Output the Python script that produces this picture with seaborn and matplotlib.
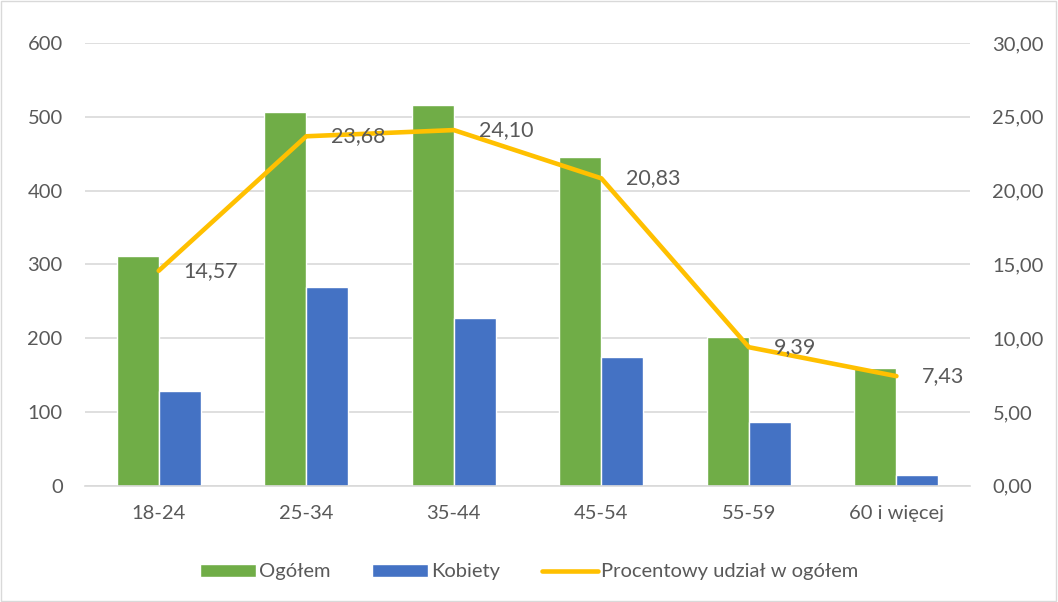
import matplotlib
matplotlib.use("Agg")
import matplotlib.pyplot as plt
import seaborn as sns
import pandas as pd
from matplotlib.patches import Rectangle

# data
groups = ['18-24', '25-34', '35-44', '45-54', '55-59', '60 i więcej']
ogolem = [312, 507, 516, 446, 201, 159]
kobiety = [129, 269, 227, 174, 86, 15]
procent = [14.57, 23.68, 24.10, 20.83, 9.39, 7.43]

sns.set_style('white')
plt.rcParams['font.family'] = ['Lato', 'DejaVu Sans']
txt = '#595959'
fs = 14.5

df = pd.DataFrame({'grupa': groups * 2,
                   'liczba': ogolem + kobiety,
                   'seria': ['Ogółem'] * 6 + ['Kobiety'] * 6})

fig = plt.figure(figsize=(10.58, 6.02), dpi=100)
ax = fig.add_axes([0.0803, 0.193, 0.8367, 0.7356])
sns.barplot(data=df, x='grupa', y='liczba', hue='seria',
            palette={'Ogółem': '#70AD47', 'Kobiety': '#4472C4'},
            width=0.57, saturation=1, ax=ax)
ax.set_xlim(-0.5, 5.5)
ax.set_ylim(0, 600)
ax.set_yticks(range(0, 601, 100))
ax.yaxis.grid(True, color='#D9D9D9', linewidth=1.2)
ax.set_axisbelow(True)
ax.set_xlabel('')
ax.set_ylabel('')
for s in ['top', 'right', 'left']:
    ax.spines[s].set_visible(False)
ax.spines['bottom'].set_color('#D9D9D9')
ax.spines['bottom'].set_linewidth(1.2)
ax.tick_params(length=0, labelsize=fs, colors=txt)
ax.tick_params(axis='x', pad=14)
ax.tick_params(axis='y', pad=16)
ax.get_legend().remove()

ax2 = ax.twinx()
xs = list(range(len(groups)))
sns.lineplot(x=xs, y=procent, color='#FFC000', linewidth=3.3, ax=ax2,
             label='Procentowy udział w ogółem', sort=False)
ax2.set_ylim(0, 30)
ax2.set_yticks(range(0, 31, 5))
ax2.set_yticklabels([f'{v:.2f}'.replace('.', ',') for v in range(0, 31, 5)])
ax2.tick_params(length=0, labelsize=fs, colors=txt, pad=16)
for s in ax2.spines.values():
    s.set_visible(False)
ax2.get_legend().remove()
for x, v in zip(xs, procent):
    ax2.annotate(f'{v:.2f}'.replace('.', ','), (x, v), xytext=(18, 0),
                 textcoords='offset points', va='center', ha='left',
                 fontsize=15.5, color=txt)

h1, l1 = ax.get_legend_handles_labels()
h2, l2 = ax2.get_legend_handles_labels()
fig.legend(h1 + h2, l1 + l2, loc='center', bbox_to_anchor=(0.5, 0.05),
           ncol=3, frameon=False, fontsize=fs, labelcolor=txt,
           handlelength=2.75, handleheight=0.62, handletextpad=0.15, columnspacing=2.1)

fig.patches.append(Rectangle((0.001, 0.002), 0.997, 0.996, transform=fig.transFigure,
                             fill=False, edgecolor='#D9D9D9', linewidth=1))
fig.savefig('out.png', dpi=100)
